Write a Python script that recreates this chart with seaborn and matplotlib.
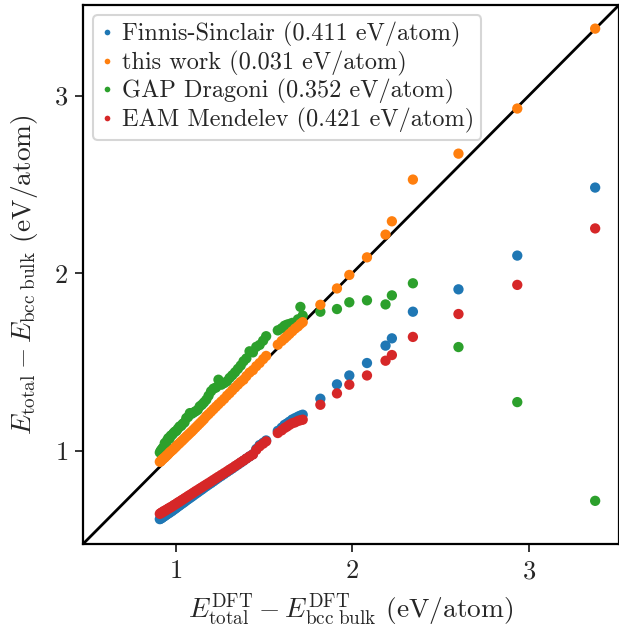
import numpy as np
import pandas as pd
import matplotlib
matplotlib.use("Agg")
import matplotlib.pyplot as plt
import seaborn as sns

# DFT reference energies (eV/atom)
x_dft = [0.91, 0.915, 0.92, 0.926, 0.932, 0.938, 0.945, 0.951, 0.958, 0.965,
         0.972, 0.98, 0.988, 0.996, 1.004, 1.013, 1.022, 1.031, 1.04, 1.05,
         1.06, 1.07, 1.08, 1.09, 1.10, 1.112, 1.124, 1.136, 1.148, 1.16,
         1.173, 1.186, 1.20, 1.214, 1.228, 1.242, 1.258, 1.274, 1.29, 1.305,
         1.32, 1.336, 1.352, 1.368, 1.384, 1.40, 1.418, 1.437, 1.456, 1.475,
         1.495, 1.512, 1.578, 1.60, 1.616, 1.63, 1.644, 1.66, 1.676, 1.692,
         1.706, 1.719,
         1.819, 1.913, 1.983, 2.083, 2.188, 2.224, 2.343, 2.601, 2.934, 3.375]

y_fs = [0.615, 0.618, 0.621, 0.625, 0.63, 0.633, 0.639, 0.642, 0.648, 0.651,
        0.657, 0.661, 0.668, 0.673, 0.679, 0.686, 0.692, 0.699, 0.705, 0.712,
        0.72, 0.727, 0.734, 0.741, 0.748, 0.757, 0.765, 0.774, 0.782, 0.791,
        0.80, 0.809, 0.818, 0.828, 0.838, 0.848, 0.858, 0.869, 0.88, 0.89,
        0.90, 0.911, 0.922, 0.933, 0.944, 0.956, 0.968, 0.981, 1.01, 1.032,
        1.045, 1.058, 1.112, 1.13, 1.146, 1.154, 1.164, 1.176, 1.184, 1.192,
        1.198, 1.203,
        1.293, 1.374, 1.424, 1.494, 1.592, 1.633, 1.783, 1.909, 2.099, 2.482]

y_this = [0.938, 0.94, 0.948, 0.952, 0.958, 0.962, 0.97, 0.975, 0.982, 0.99,
          0.996, 1.003, 1.01, 1.018, 1.026, 1.035, 1.043, 1.052, 1.06, 1.07,
          1.08, 1.089, 1.099, 1.108, 1.118, 1.13, 1.142, 1.154, 1.166, 1.178,
          1.194, 1.206, 1.22, 1.234, 1.248, 1.262, 1.277, 1.292, 1.31, 1.324,
          1.34, 1.356, 1.372, 1.388, 1.40, 1.42, 1.44, 1.454, 1.476, 1.494,
          1.516, 1.534, 1.597, 1.618, 1.632, 1.645, 1.658, 1.673, 1.688, 1.70,
          1.714, 1.724,
          1.822, 1.914, 1.990, 2.089, 2.217, 2.292, 2.527, 2.673, 2.927, 3.377]

y_gap = [0.99, 1.0, 1.006, 1.015, 1.02, 1.043, 1.04, 1.058, 1.071, 1.068,
         1.085, 1.09, 1.10, 1.108, 1.112, 1.125, 1.137, 1.14, 1.152, 1.16,
         1.184, 1.19, 1.212, 1.208, 1.215, 1.222, 1.23, 1.25, 1.259, 1.272,
         1.287, 1.31, 1.335, 1.35, 1.356, 1.40, 1.372, 1.381, 1.391, 1.41,
         1.425, 1.442, 1.461, 1.48, 1.504, 1.52, 1.56, 1.554, 1.585, 1.596,
         1.62, 1.645, 1.678, 1.69, 1.704, 1.71, 1.714, 1.72, 1.719, 1.74,
         1.81, 1.761,
         1.783, 1.798, 1.836, 1.847, 1.824, 1.875, 1.943, 1.584, 1.274, 0.718]

y_eam = [0.645, 0.648, 0.652, 0.654, 0.66, 0.661, 0.667, 0.669, 0.675, 0.677,
         0.683, 0.686, 0.693, 0.697, 0.702, 0.709, 0.713, 0.72, 0.725, 0.732,
         0.738, 0.745, 0.751, 0.757, 0.764, 0.772, 0.779, 0.787, 0.794, 0.802,
         0.81, 0.818, 0.827, 0.836, 0.845, 0.854, 0.864, 0.874, 0.884, 0.894,
         0.903, 0.914, 0.924, 0.935, 0.945, 0.956, 0.968, 0.979, 1.005, 1.025,
         1.04, 1.053, 1.10, 1.115, 1.128, 1.136, 1.146, 1.155, 1.16, 1.168,
         1.172, 1.175,
         1.259, 1.323, 1.372, 1.424, 1.507, 1.539, 1.641, 1.770, 1.934, 2.252]

labels = ["Finnis-Sinclair (0.411 eV/atom)",
          "this work (0.031 eV/atom)",
          "GAP Dragoni (0.352 eV/atom)",
          "EAM Mendelev (0.421 eV/atom)"]
colors = ["#1f77b4", "#ff7f0e", "#2ca02c", "#d62728"]
ticks = [1, 2, 3]

sns.set_style("ticks")
plt.rcParams["font.family"] = ["cmr10", "DejaVu Serif"]
plt.rcParams["mathtext.fontset"] = "cm"
plt.rcParams["axes.formatter.use_mathtext"] = True

# drawing order: GAP, this work, FS, EAM (EAM on top)
series = {labels[2]: y_gap, labels[1]: y_this, labels[0]: y_fs, labels[3]: y_eam}
frames = [pd.DataFrame({"x": x_dft, "y": ys, "model": name}) for name, ys in series.items()]
df = pd.concat(frames, ignore_index=True)

fig = plt.figure(figsize=(6.19, 6.39), dpi=100)
ax = fig.add_axes([83 / 619, 95 / 639, 536 / 619, 539 / 639])

lo, hi = 0.475, 3.51
ax.plot([lo, hi], [lo, hi], color="black", lw=2, zorder=1)
sns.scatterplot(data=df, x="x", y="y", hue="model", hue_order=labels,
                palette=colors, s=55, linewidth=0, ax=ax, zorder=2)

ax.set_xlim(lo, hi)
ax.set_ylim(lo, hi)
ax.set_xticks(ticks)
ax.set_yticks(ticks)
ax.tick_params(labelsize=19, length=6, width=1.3, pad=5)
for sp in ax.spines.values():
    sp.set_linewidth(1.6)
    sp.set_color("black")

ax.set_xlabel(r"$E^{\mathrm{DFT}}_{\mathrm{total}} - E^{\mathrm{DFT}}_{\mathrm{bcc\ bulk}}$ (eV/atom)", fontsize=19.7, labelpad=6)
ax.set_ylabel(r"$E_{\mathrm{total}} - E_{\mathrm{bcc\ bulk}}$ (eV/atom)", fontsize=19.7, labelpad=10)

leg = ax.legend(loc="upper left", fontsize=17.5, markerscale=0.55, handletextpad=0.3,
                borderpad=0.3, labelspacing=0.14, handlelength=0.6, frameon=True,
                fancybox=True, framealpha=0.8, borderaxespad=0.4)
leg.get_frame().set_edgecolor("#cccccc")
leg.get_frame().set_linewidth(1.5)

fig.savefig("out.png", dpi=100)
